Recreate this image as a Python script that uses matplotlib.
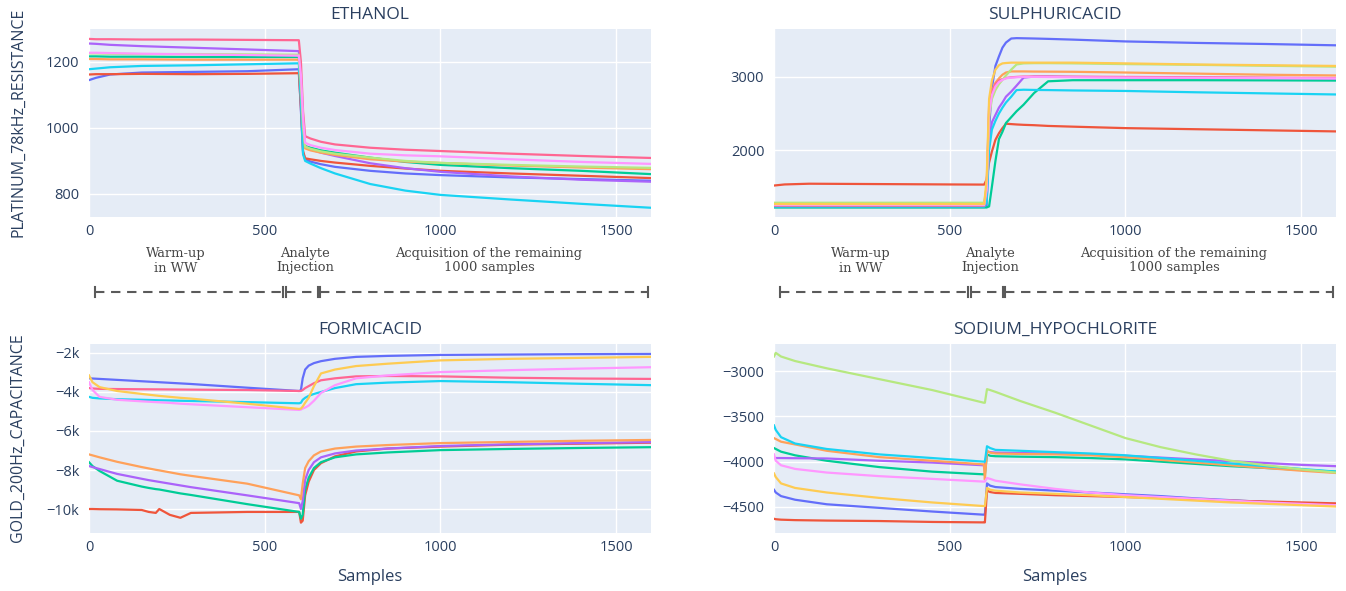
import matplotlib
matplotlib.use("Agg")
import matplotlib.pyplot as plt
from matplotlib.lines import Line2D

# plotly default colour cycle, one colour per sensor
colors = ['#636EFA', '#EF553B', '#00CC96', '#AB63FA', '#FFA15A',
          '#19D3F3', '#FF6692', '#B6E880', '#FF97FF', '#FECB52']

# ---- ETHANOL (PLATINUM_78kHz_RESISTANCE) ----
ethanol_x = [0, 20, 60, 150, 300, 450, 597, 603, 609, 615, 630, 660, 700, 800, 900, 1000, 1200, 1400, 1599]
ethanol = {
    0: [1145, 1152, 1162, 1168, 1170, 1172, 1178, 1050, 925, 905, 898, 890, 882, 870, 862, 857, 850, 845, 840],
    1: [1162, 1163, 1163, 1164, 1163, 1164, 1166, 1060, 930, 908, 905, 900, 895, 885, 877, 870, 862, 855, 848],
    2: [1217, 1217, 1216, 1216, 1215, 1215, 1215, 1120, 990, 945, 940, 932, 925, 910, 897, 888, 878, 870, 860],
    3: [1256, 1255, 1252, 1248, 1243, 1238, 1233, 1150, 1000, 945, 935, 925, 915, 893, 878, 867, 853, 843, 837],
    4: [1209, 1209, 1208, 1208, 1207, 1207, 1207, 1110, 980, 938, 932, 925, 918, 905, 898, 894, 886, 880, 875],
    5: [1178, 1180, 1184, 1188, 1190, 1193, 1196, 1080, 920, 900, 892, 878, 862, 830, 810, 797, 783, 770, 758],
    6: [1270, 1269, 1269, 1268, 1268, 1267, 1266, 1200, 1050, 975, 968, 958, 950, 940, 934, 930, 922, 915, 909],
    7: [1226, 1226, 1225, 1224, 1224, 1223, 1222, 1130, 1000, 943, 937, 929, 922, 910, 900, 894, 888, 883, 879],
    8: [1228, 1228, 1227, 1225, 1223, 1221, 1219, 1160, 1030, 955, 948, 940, 933, 922, 917, 914, 905, 897, 891],
}

# ---- SULPHURICACID ----
sulph_x = [0, 30, 100, 300, 500, 598, 605, 612, 620, 630, 640, 650, 660, 675, 690, 710, 740, 780, 850, 1000, 1200, 1400, 1599]
sulph = {
    0: [1222, 1222, 1222, 1222, 1222, 1222, 1240, 2300, 2850, 3150, 3280, 3400, 3470, 3525, 3530, 3528, 3525, 3520, 3510, 3485, 3465, 3450, 3432],
    1: [1515, 1530, 1540, 1535, 1530, 1528, 1600, 1830, 1980, 2140, 2230, 2300, 2360, 2355, 2350, 2345, 2340, 2330, 2320, 2300, 2285, 2270, 2255],
    2: [1215, 1215, 1215, 1215, 1215, 1215, 1215, 1230, 1500, 1850, 2150, 2250, 2370, 2450, 2530, 2620, 2780, 2940, 2955, 2955, 2955, 2953, 2950],
    3: [1232, 1232, 1232, 1232, 1232, 1232, 1300, 2100, 2380, 2480, 2580, 2650, 2730, 2800, 2880, 2990, 3005, 3005, 3000, 2995, 2990, 2985, 2980],
    4: [1262, 1262, 1262, 1262, 1262, 1262, 1400, 2500, 2800, 2920, 2980, 3030, 3060, 3075, 3075, 3075, 3073, 3072, 3070, 3060, 3045, 3030, 3020],
    5: [1228, 1228, 1228, 1228, 1228, 1228, 1280, 2000, 2280, 2400, 2500, 2580, 2650, 2730, 2820, 2825, 2822, 2820, 2815, 2808, 2790, 2775, 2760],
    6: [1240, 1240, 1240, 1240, 1240, 1240, 1500, 2600, 2800, 2900, 2950, 2970, 2985, 2995, 3000, 3005, 3005, 3004, 3003, 3000, 2995, 2990, 2985],
    7: [1280, 1280, 1280, 1280, 1280, 1280, 1500, 2450, 2700, 2820, 2900, 2960, 3020, 3100, 3170, 3185, 3188, 3188, 3185, 3175, 3165, 3152, 3140],
    8: [1250, 1250, 1250, 1250, 1250, 1250, 1450, 2500, 2750, 2870, 2930, 2960, 2980, 2990, 2995, 3000, 3000, 2998, 2996, 2992, 2988, 2984, 2980],
    9: [1262, 1262, 1262, 1262, 1262, 1262, 1600, 2700, 2950, 3100, 3160, 3185, 3190, 3195, 3195, 3195, 3195, 3195, 3195, 3185, 3170, 3160, 3150],
}

# ---- FORMICACID (GOLD_200Hz_CAPACITANCE) ----
formic_x = [0, 10, 30, 80, 150, 170, 190, 200, 230, 260, 290, 450, 598, 603, 608, 615, 625, 640, 660, 700, 760, 850, 1000, 1200, 1400, 1599]
formic = {
    0: [-3300, -3310, -3330, -3380, -3450, -3470, -3490, -3500, -3530, -3560, -3590, -3780, -3950, -3900, -3300, -2850, -2650, -2520, -2420, -2300, -2200, -2150, -2100, -2080, -2060, -2050],
    1: [-10000, -10000, -10010, -10020, -10050, -10150, -10200, -10000, -10300, -10450, -10200, -10150, -10150, -10700, -10600, -9300, -8600, -8000, -7650, -7300, -7050, -6900, -6800, -6700, -6650, -6600],
    2: [-7600, -7800, -8050, -8550, -8850, -8920, -8980, -9000, -9100, -9200, -9280, -9750, -10150, -10500, -10300, -9000, -8400, -7900, -7600, -7350, -7200, -7100, -6980, -6920, -6870, -6830],
    3: [-7800, -7850, -7950, -8200, -8450, -8520, -8580, -8610, -8700, -8790, -8880, -9300, -9700, -10000, -9600, -8500, -8000, -7600, -7350, -7150, -7000, -6900, -6770, -6680, -6620, -6570],
    4: [-7200, -7250, -7350, -7580, -7850, -7920, -7990, -8020, -8120, -8220, -8300, -8700, -9300, -9500, -8700, -7900, -7550, -7250, -7050, -6900, -6800, -6720, -6620, -6560, -6500, -6460],
    5: [-4250, -4300, -4330, -4370, -4400, -4410, -4420, -4425, -4435, -4450, -4460, -4520, -4580, -4550, -4400, -4300, -4200, -4100, -4000, -3800, -3600, -3520, -3440, -3500, -3580, -3650],
    6: [-3800, -3820, -3840, -3850, -3860, -3862, -3865, -3866, -3870, -3875, -3880, -3900, -3950, -3950, -3900, -3800, -3700, -3550, -3400, -3300, -3200, -3180, -3200, -3270, -3310, -3330],
    8: [-3500, -3900, -4250, -4400, -4480, -4500, -4520, -4530, -4560, -4600, -4630, -4780, -4920, -4900, -4850, -4800, -4700, -4450, -4050, -3650, -3300, -3150, -2980, -2880, -2800, -2730],
    9: [-3150, -3500, -3750, -3950, -4100, -4140, -4180, -4200, -4250, -4300, -4340, -4600, -4870, -4850, -4750, -4550, -4300, -3700, -3050, -2850, -2670, -2550, -2380, -2300, -2250, -2200],
}

# ---- SODIUM_HYPOCHLORITE ----
sodium_x = [0, 5, 20, 60, 150, 300, 450, 597, 600, 606, 615, 630, 700, 800, 900, 1000, 1100, 1200, 1300, 1400, 1500, 1599]
sodium = {
    0: [-4310, -4340, -4380, -4420, -4470, -4510, -4550, -4585, -4585, -4240, -4265, -4280, -4300, -4320, -4340, -4360, -4380, -4405, -4425, -4445, -4465, -4485],
    1: [-4630, -4635, -4640, -4645, -4650, -4655, -4665, -4670, -4670, -4320, -4335, -4345, -4355, -4370, -4380, -4390, -4400, -4415, -4430, -4440, -4450, -4460],
    2: [-3850, -3860, -3890, -3930, -3990, -4060, -4110, -4140, -4140, -3920, -3935, -3940, -3945, -3950, -3960, -3975, -4000, -4025, -4050, -4070, -4090, -4110],
    3: [-3960, -3960, -3960, -3962, -3965, -3990, -4010, -4040, -4040, -3890, -3895, -3900, -3905, -3910, -3920, -3935, -3955, -3975, -3995, -4015, -4035, -4050],
    4: [-3740, -3750, -3780, -3810, -3880, -3950, -3990, -4030, -4200, -3880, -3900, -3910, -3915, -3920, -3930, -3950, -3980, -4010, -4040, -4070, -4100, -4125],
    5: [-3600, -3650, -3730, -3800, -3860, -3920, -3960, -4000, -4000, -3830, -3850, -3870, -3880, -3895, -3910, -3930, -3960, -3990, -4020, -4050, -4080, -4110],
    7: [-2840, -2800, -2840, -2890, -2970, -3090, -3210, -3350, -3350, -3200, -3210, -3230, -3330, -3460, -3600, -3740, -3840, -3920, -3990, -4040, -4085, -4120],
    8: [-3920, -3990, -4040, -4080, -4120, -4160, -4190, -4220, -4220, -4180, -4190, -4210, -4250, -4300, -4340, -4370, -4390, -4410, -4430, -4450, -4465, -4480],
    9: [-4130, -4170, -4240, -4290, -4340, -4400, -4450, -4490, -4490, -4290, -4310, -4320, -4340, -4355, -4370, -4390, -4410, -4430, -4450, -4465, -4480, -4495],
}

panel_titles = ['ETHANOL', 'SULPHURICACID', 'FORMICACID', 'SODIUM_HYPOCHLORITE']
x_ticks = [0, 500, 1000, 1500]
ethanol_yticks = [800, 1000, 1200]
sulph_yticks = [2000, 3000]
formic_yticks = [-10000, -8000, -6000, -4000, -2000]
formic_ylabels = ['\u221210k', '\u22128k', '\u22126k', '\u22124k', '\u22122k']
sodium_yticks = [-4500, -4000, -3500, -3000]
sodium_ylabels = ['\u22124500', '\u22124000', '\u22123500', '\u22123000']

phase_labels = ['Warm-up\nin WW', 'Analyte\nInjection', 'Acquisition of the remaining\n1000 samples']

W, H = 1346, 591
TXT = '#2a3f5f'
plt.rcParams['font.family'] = ['Open Sans', 'DejaVu Sans']

fig = plt.figure(figsize=(W / 100, H / 100), dpi=100)


def px_axes(left, top, right, bottom):
    return fig.add_axes([left / W, 1 - bottom / H, (right - left) / W, (bottom - top) / H])


def draw_panel(ax, title, xs, series, ylim, yticks, ylabels=None):
    ax.set_facecolor('#E5ECF6')
    for k in sorted(series):
        ax.plot(xs, series[k], color=colors[k], lw=1.6, solid_joinstyle='round')
    ax.set_xlim(0, 1599)
    ax.set_ylim(*ylim)
    ax.set_xticks(x_ticks)
    ax.set_yticks(yticks)
    if ylabels is not None:
        ax.set_yticklabels(ylabels)
    ax.grid(True, color='white', lw=1.0)
    ax.set_axisbelow(True)
    for s in ax.spines.values():
        s.set_visible(False)
    ax.tick_params(length=0, labelsize=10.5, labelcolor=TXT)
    ax.tick_params(axis='y', pad=7)
    ax.tick_params(axis='x', pad=5)
    ax.set_title(title, fontsize=12.5, color=TXT, pad=7)


ax1 = px_axes(89, 29, 651, 217)
draw_panel(ax1, panel_titles[0], ethanol_x, ethanol, (730, 1300), ethanol_yticks)
ax2 = px_axes(774, 29, 1336, 217)
draw_panel(ax2, panel_titles[1], sulph_x, sulph, (1085, 3655), sulph_yticks)
ax3 = px_axes(89, 344, 651, 533)
draw_panel(ax3, panel_titles[2], formic_x, formic, (-11230, -1540), formic_yticks, formic_ylabels)
ax4 = px_axes(774, 344, 1336, 533)
draw_panel(ax4, panel_titles[3], sodium_x, sodium, (-4787, -2702), sodium_yticks, sodium_ylabels)

# axis titles
fig.text(18 / W, 1 - 122 / H, 'PLATINUM_78kHz_RESISTANCE', rotation=90, ha='center', va='center',
         fontsize=11.5, color=TXT)
fig.text(18 / W, 1 - 438 / H, 'GOLD_200Hz_CAPACITANCE', rotation=90, ha='center', va='center',
         fontsize=11.5, color=TXT)
fig.text(370 / W, 1 - 577 / H, 'Samples', ha='center', va='center', fontsize=12, color=TXT)
fig.text(1055 / W, 1 - 577 / H, 'Samples', ha='center', va='center', fontsize=12, color=TXT)


# phase annotation strip below the top panels
def fline(x0, y0, x1, y1, **kw):
    fig.add_artist(Line2D([x0 / W, x1 / W], [1 - y0 / H, 1 - y1 / H], **kw))


GREY = '#5a5a5a'
for left in (89, 774):
    label_x = [87, 216, 400]
    for lx, lab in zip(label_x, phase_labels):
        fig.text((left + lx) / W, 1 - 260.5 / H, lab, ha='center', va='center', fontsize=9.4,
                 family='DejaVu Serif', color='#444444', linespacing=1.2)
    y = 292
    segs = [(6, 194), (197, 229), (231, 559)]
    for a, b in segs:
        fline(left + a, y, left + b, y, color=GREY, lw=1.5, linestyle=(0, (4.5, 3.2)))
    for bx in (6, 194, 197, 229, 231, 559):
        fline(left + bx, y - 5, left + bx, y + 5, color=GREY, lw=1.5)

fig.savefig('out.png', dpi=100)
